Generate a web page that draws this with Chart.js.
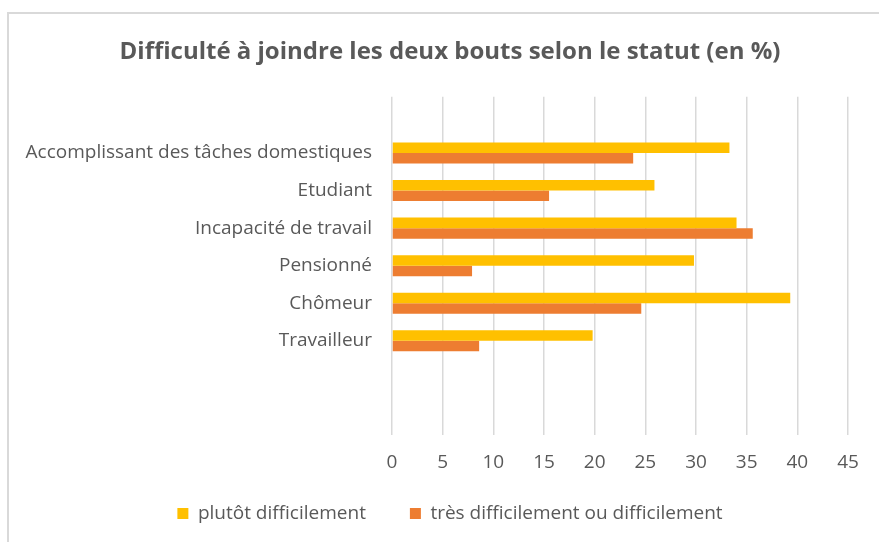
<!DOCTYPE html>
<html>
<head>
<meta charset="utf-8">
<script src="https://cdn.jsdelivr.net/npm/chart.js@4.4.1/dist/chart.umd.min.js"></script>
<style>
  html, body { margin: 0; padding: 0; background: #fff; }
  #wrap { position: relative; width: 879px; height: 542px; }
  #frame { position: absolute; left: 7px; top: 12px; right: 0; bottom: 0;
           border-left: 2px solid #d9d9d9; border-top: 2px solid #d9d9d9; pointer-events: none; }
</style>
</head>
<body>
<div id="wrap">
  <canvas id="chart" width="879" height="542"></canvas>
  <div id="frame"></div>
</div>
<script>
// categories top to bottom (empty slots as in the original sheet)
const categories = ['', 'Accomplissant des tâches domestiques', 'Etudiant', 'Incapacité de travail',
                    'Pensionné', 'Chômeur', 'Travailleur', '', ''];
const plutotDifficilement = [null, 33.3, 25.9, 34.0, 29.8, 39.3, 19.8, null, null];
const tresDifficilement = [null, 23.8, 15.5, 35.6, 7.9, 24.6, 8.6, null, null];
const seriesNames = ['plutôt difficilement', 'très difficilement ou difficilement'];

const textColor = '#595959';
const font = "'Open Sans', 'Noto Sans', sans-serif";
const padLeft = 52;

new Chart(document.getElementById('chart'), {
    type: 'bar',
    data: {
        labels: categories,
        datasets: [{
            label: seriesNames[0],
            data: plutotDifficilement,
            backgroundColor: '#FFC000',
            categoryPercentage: 0.56,
            barPercentage: 1.0
        }, {
            label: seriesNames[1],
            data: tresDifficilement,
            backgroundColor: '#ED7D31',
            categoryPercentage: 0.56,
            barPercentage: 1.0
        }]
    },
    options: {
        indexAxis: 'y',
        responsive: false,
        animation: false,
        layout: { padding: { left: padLeft, right: 31, top: 0, bottom: 9 } },
        plugins: {
            title: {
                display: true,
                text: 'Difficulté à joindre les deux bouts selon le statut (en %)',
                color: textColor,
                font: { family: font, size: 24, weight: 'bold' },
                padding: { top: 38, bottom: 30 }
            },
            legend: {
                position: 'bottom',
                labels: {
                    color: textColor,
                    font: { family: font, size: 19 },
                    boxWidth: 11,
                    boxHeight: 11,
                    padding: 44
                }
            },
            tooltip: { enabled: false }
        },
        scales: {
            x: {
                min: 0,
                max: 45,
                ticks: { stepSize: 5, color: textColor, font: { family: font, size: 19 }, padding: 17 },
                grid: { color: '#d9d9d9', lineWidth: 1.5, drawTicks: false },
                border: { display: false },
                afterFit: scale => {
                    scale.height = 25.5;
                    scale._computeLabelArea = () => undefined;
                }
            },
            y: {
                ticks: { color: textColor, font: { family: font, size: 19 }, padding: 20, autoSkip: false },
                grid: { display: false, drawTicks: false },
                border: { display: false },
                afterFit: scale => {
                    scale.width = 392 - padLeft;
                    scale._computeLabelArea = () => undefined;
                }
            }
        }
    }
});
</script>
</body>
</html>
